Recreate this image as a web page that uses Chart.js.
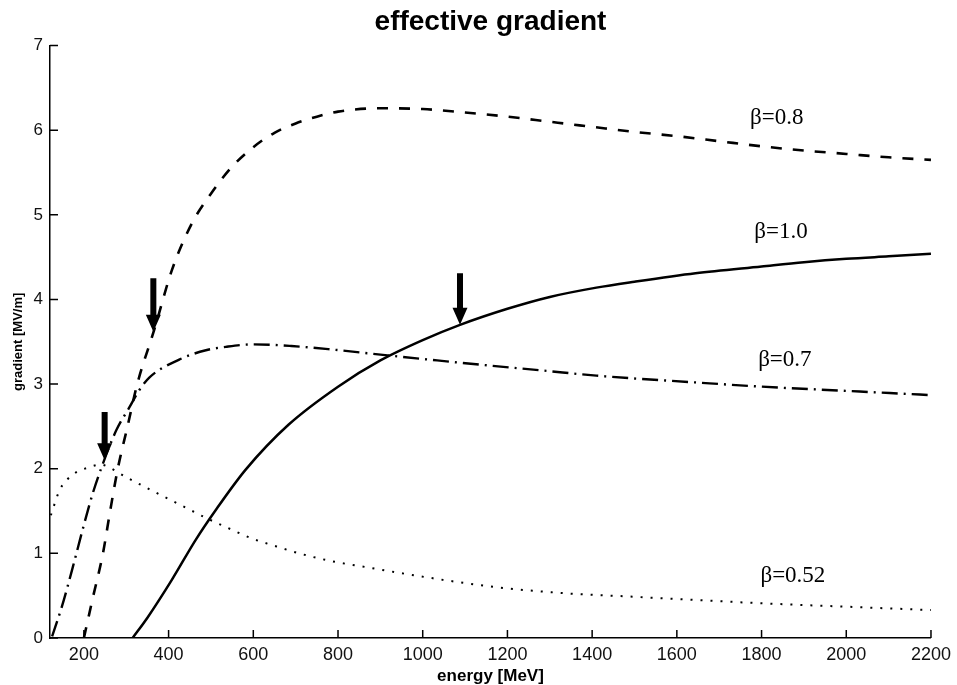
<!DOCTYPE html>
<html><head><meta charset="utf-8">
<script src="https://cdn.jsdelivr.net/npm/chart.js@4.4.1/dist/chart.umd.min.js"></script>
<style>html,body{margin:0;padding:0;background:#fff;}</style>
</head><body>
<canvas id="c" width="957" height="685"></canvas>
<script>
// ---- data ----
const xTicks = [200,400,600,800,1000,1200,1400,1600,1800,2000,2200];
const yTicks = [0,1,2,3,4,5,6,7];

const energy08 = [200,220,245,262,280,303,326,366,408,455,500,550,600,650,700,750,800,900,1000,1100,1200,1300,1400,1500,1600,1700,1800,1900,2000,2100,2200];
const grad08   = [0,0.45,1.0,1.5,2.0,2.5,3.0,3.64,4.35,4.9,5.25,5.57,5.8,5.97,6.08,6.16,6.22,6.26,6.25,6.21,6.16,6.1,6.04,5.98,5.93,5.87,5.81,5.76,5.72,5.68,5.65];

const energy10 = [315,350,408,464,511,582,683,800,900,1000,1088,1200,1300,1410,1500,1644,1800,1900,2000,2100,2200];
const grad10   = [0,0.24,0.69,1.16,1.51,1.99,2.52,2.97,3.28,3.52,3.7,3.89,4.03,4.14,4.21,4.31,4.39,4.44,4.48,4.51,4.54];

const energy07 = [125,148,174,197,221,242,277,308,331,355,425,488,535,600,690,783,917,1034,1135,1285,1410,1644,1800,2000,2200];
const grad07   = [0.02,0.37,0.84,1.28,1.71,2.02,2.46,2.73,2.93,3.08,3.29,3.4,3.44,3.47,3.45,3.41,3.34,3.28,3.23,3.16,3.1,3.02,2.97,2.92,2.87];

const energy052 = [122,143,174,214,240,254,300,354,425,488,540,600,643,723,793,863,1018,1175,1332,1487,1644,1800,2000,2200];
const grad052   = [1.45,1.75,1.93,2.02,2.05,2.03,1.9,1.76,1.58,1.42,1.3,1.17,1.1,0.98,0.9,0.84,0.71,0.6,0.53,0.49,0.45,0.41,0.37,0.33];

const labelText   = ['β=0.8','β=1.0','β=0.7','β=0.52'];
const labelEnergy = [1836,1846,1855,1874];
const labelGrad   = [6.15,4.8,3.28,0.73];

const arrowEnergy = [249,364,1088];
const arrowTop    = [2.67,4.25,4.31];
const arrowTip    = [2.1,3.62,3.7];

function pts(xs, ys){ return xs.map((x,i)=>({x:x,y:ys[i]})); }

const FONT = "'Liberation Sans', Arial, Helvetica, sans-serif";

const decor = {
  id:'decor',
  afterDraw(chart){
    const ctx = chart.ctx, xs = chart.scales.x, ys = chart.scales.y;
    const a = chart.chartArea;
    ctx.save();
    // inward tick marks
    ctx.strokeStyle = '#000'; ctx.lineWidth = 1.5;
    ctx.beginPath();
    xTicks.forEach(v=>{ const p = xs.getPixelForValue(v); ctx.moveTo(p, a.bottom); ctx.lineTo(p, a.bottom-8); });
    yTicks.forEach(v=>{ const p = ys.getPixelForValue(v); ctx.moveTo(a.left, p); ctx.lineTo(a.left+8, p); });
    ctx.stroke();
    // arrows
    ctx.fillStyle = '#000';
    arrowEnergy.forEach((e,i)=>{
      const px = xs.getPixelForValue(e);
      const t = ys.getPixelForValue(arrowTop[i]);
      const b = ys.getPixelForValue(arrowTip[i]);
      const hl = 17, hw = 7.5, sw = 3;
      ctx.beginPath();
      ctx.moveTo(px-sw, t); ctx.lineTo(px+sw, t); ctx.lineTo(px+sw, b-hl);
      ctx.lineTo(px+hw, b-hl); ctx.lineTo(px, b); ctx.lineTo(px-hw, b-hl);
      ctx.lineTo(px-sw, b-hl); ctx.closePath(); ctx.fill();
    });
    // curve labels
    ctx.font = "23px 'Liberation Serif', 'Times New Roman', serif";
    ctx.textAlign = 'center'; ctx.textBaseline = 'middle';
    labelText.forEach((s,i)=>{
      ctx.fillText(s, xs.getPixelForValue(labelEnergy[i]), ys.getPixelForValue(labelGrad[i]));
    });
    ctx.restore();
  }
};

new Chart(document.getElementById('c'), {
  type:'line',
  data:{ datasets:[
    {label:'β=0.8', data:pts(energy08,grad08), borderColor:'#000', borderWidth:2.6, borderDash:[11,11], pointRadius:0, cubicInterpolationMode:'monotone', fill:false},
    {label:'β=1.0', data:pts(energy10,grad10), borderColor:'#000', borderWidth:2.5, pointRadius:0, cubicInterpolationMode:'monotone', fill:false},
    {label:'β=0.7', data:pts(energy07,grad07), borderColor:'#000', borderWidth:2.4, borderDash:[16,6,2,6], pointRadius:0, cubicInterpolationMode:'monotone', fill:false},
    {label:'β=0.52', data:pts(energy052,grad052), borderColor:'#000', borderWidth:2, borderDash:[2,8], pointRadius:0, cubicInterpolationMode:'monotone', fill:false}
  ]},
  options:{
    responsive:false, animation:false,
    layout:{padding:{left:0,right:20,top:0,bottom:0}},
    plugins:{
      legend:{display:false}, tooltip:{enabled:false},
      title:{display:true, text:'effective gradient', fullSize:false, color:'#000',
        font:{family:FONT, size:28, weight:'bold'}, padding:{top:5,bottom:7}}
    },
    scales:{
      x:{type:'linear', min:120, max:2200,
        afterBuildTicks:s=>{ s.ticks = xTicks.map(v=>({value:v})); },
        afterFit:s=>{ s.height = 47; },
        grid:{display:true, drawOnChartArea:false, drawTicks:false},
        border:{display:true, color:'#000', width:1.5},
        ticks:{color:'#111', padding:6, maxRotation:0, autoSkip:false, font:{family:FONT, size:18}, callback:v=>String(v)},
        title:{display:true, text:'energy [MeV]', color:'#000', font:{family:FONT, size:17, weight:'bold', lineHeight:1}, padding:{top:0,bottom:0}}
      },
      y:{type:'linear', min:0, max:7,
        afterBuildTicks:s=>{ s.ticks = yTicks.map(v=>({value:v})); },
        afterFit:s=>{ s.width = 50; },
        grid:{display:true, drawOnChartArea:false, drawTicks:false},
        border:{display:true, color:'#000', width:1.5},
        ticks:{color:'#111', padding:7, autoSkip:false, font:{family:FONT, size:17}, callback:v=>String(v)},
        title:{display:true, text:'gradient [MV/m]', color:'#000', font:{family:FONT, size:13, weight:'bold'}, padding:{top:11,bottom:11}}
      }
    }
  },
  plugins:[decor]
});
</script>
</body></html>
